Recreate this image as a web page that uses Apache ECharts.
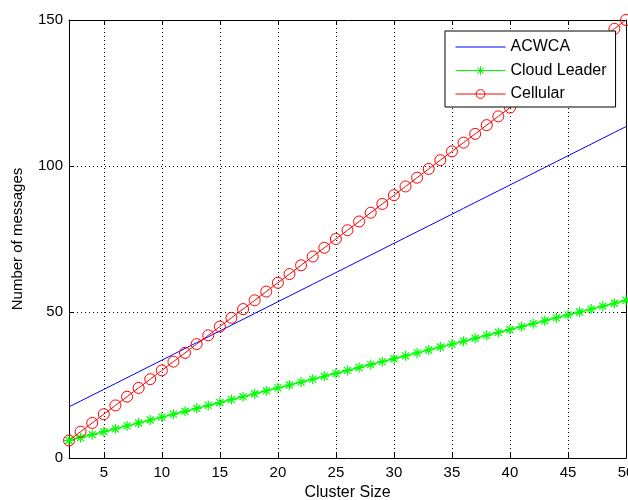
<!DOCTYPE html>
<html>
<head>
<meta charset="utf-8">
<script src="https://cdn.jsdelivr.net/npm/echarts@6/dist/echarts.min.js"></script>
<style>html,body{margin:0;padding:0;background:#fff}#c{width:628px;height:500px}</style>
</head>
<body>
<div id="c"></div>
<script>
var clusterSize = [2,3,4,5,6,7,8,9,10,11,12,13,14,15,16,17,18,19,20,21,22,23,24,25,26,27,28,29,30,31,32,33,34,35,36,37,38,39,40,41,42,43,44,45,46,47,48,49,50];
var acwca = [17.5,19.5,21.5,23.5,25.5,27.5,29.5,31.5,33.5,35.5,37.5,39.5,41.5,43.5,45.5,47.5,49.5,51.5,53.5,55.5,57.5,59.5,61.5,63.5,65.5,67.5,69.5,71.5,73.5,75.5,77.5,79.5,81.5,83.5,85.5,87.5,89.5,91.5,93.5,95.5,97.5,99.5,101.5,103.5,105.5,107.5,109.5,111.5,113.5];
var cloudLeader = [6,7,8,9,10,11,12,13,14,15,16,17,18,19,20,21,22,23,24,25,26,27,28,29,30,31,32,33,34,35,36,37,38,39,40,41,42,43,44,45,46,47,48,49,50,51,52,53,54];
var cellular = [6,9,12,15,18,21,24,27,30,33,36,39,42,45,48,51,54,57,60,63,66,69,72,75,78,81,84,87,90,93,96,99,102,105,108,111,114,117,120,123,126,129,132,135,138,141,144,147,150];
var xTicks = [5,10,15,20,25,30,35,40,45,50];
var seriesNames = ['ACWCA','Cloud Leader','Cellular'];

function pairs(ys){ return clusterSize.map(function(x,i){ return [x, ys[i]]; }); }

var FONT = 'Liberation Sans, Arial, sans-serif';
var star = 'path://M0,-10L0,10M-10,0L10,0M-7,-7L7,7M-7,7L7,-7';

var chart = echarts.init(document.getElementById('c'), null, {renderer:'canvas'});
chart.setOption({
  backgroundColor:'#fff',
  animation:false,
  grid:{left:69, right:2, top:20, bottom:42, containLabel:false, outerBoundsMode:'none'},
  legend:{
    orient:'vertical', left:445, top:31,
    backgroundColor:'#fff', borderColor:'#000', borderWidth:1,
    padding:[8,9,5,10], itemWidth:50, itemHeight:11, itemGap:7.5,
    lineStyle:{width:1},
    itemStyle:{borderWidth:1},
    textStyle:{fontFamily:FONT, fontSize:16, color:'#000'},
    data:[{name:seriesNames[0], icon:'path://M0,0L50,0L50,1L0,1Z'}, {name:seriesNames[1]}, {name:seriesNames[2]}]
  },
  xAxis:[{
    type:'value', min:2, max:50, position:'bottom',
    name:'Cluster Size', nameLocation:'middle', nameGap:26,
    nameTextStyle:{fontFamily:FONT, fontSize:16, color:'#000'},
    axisLine:{onZero:false, lineStyle:{color:'#000', width:1}},
    axisTick:{inside:true, length:5, customValues:xTicks, lineStyle:{color:'#000'}},
    axisLabel:{customValues:xTicks, margin:7, fontFamily:FONT, fontSize:15, color:'#000'},
    splitLine:{show:true, customValues:xTicks, lineStyle:{color:'#000', type:[1,3], width:1}}
  },{
    type:'value', min:2, max:50, position:'top',
    axisLine:{onZero:false, lineStyle:{color:'#000', width:1}},
    axisTick:{inside:true, length:5, customValues:xTicks, lineStyle:{color:'#000'}},
    axisLabel:{show:false},
    splitLine:{show:false}
  }],
  yAxis:[{
    type:'value', min:0, max:150, interval:50, position:'left',
    name:'Number of messages', nameLocation:'middle', nameGap:44, nameRotate:90,
    nameTextStyle:{fontFamily:FONT, fontSize:15, color:'#000'},
    axisLine:{show:true, onZero:false, lineStyle:{color:'#000', width:1}},
    axisTick:{show:true, inside:true, length:5, lineStyle:{color:'#000'}},
    axisLabel:{margin:6, fontFamily:FONT, fontSize:15, color:'#000'},
    splitLine:{show:true, lineStyle:{color:'#000', type:[1,3], width:1}}
  },{
    type:'value', min:0, max:150, interval:50, position:'right',
    axisLine:{show:true, onZero:false, lineStyle:{color:'#000', width:1}},
    axisTick:{show:true, inside:true, length:5, lineStyle:{color:'#000'}},
    axisLabel:{show:false},
    splitLine:{show:false}
  }],
  series:[{
    name:seriesNames[0], type:'line', data:pairs(acwca),
    symbol:'none', lineStyle:{color:'#0000ff', width:1},
    itemStyle:{color:'#0000ff'}
  },{
    name:seriesNames[1], type:'line', data:pairs(cloudLeader),
    symbol:star, symbolSize:10, showAllSymbol:true,
    lineStyle:{color:'#00ff00', width:1.5},
    itemStyle:{color:'#00ff00', borderColor:'#00ff00', borderWidth:1.2}
  },{
    name:seriesNames[2], type:'line', data:pairs(cellular),
    symbol:'circle', symbolSize:11, showAllSymbol:true,
    lineStyle:{color:'#ff0000', width:1},
    itemStyle:{color:'rgba(0,0,0,0)', borderColor:'#ff0000', borderWidth:1}
  }]
});
</script>
</body>
</html>
